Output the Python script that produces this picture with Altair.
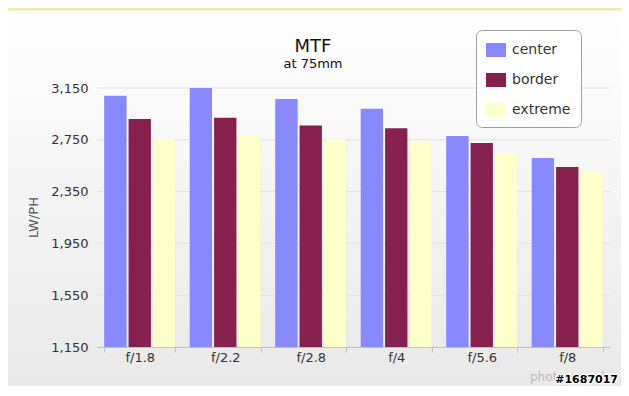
import altair as alt
import pandas as pd

apertures = ["f/1.8", "f/2.2", "f/2.8", "f/4", "f/5.6", "f/8"]
series_names = ["center", "border", "extreme"]
center = [3090, 3155, 3065, 2990, 2780, 2610]
border = [2910, 2920, 2860, 2840, 2725, 2540]
extreme = [2755, 2780, 2755, 2740, 2645, 2505]
colors = ["#8888FF", "#85204F", "#FFFFCC"]
y_ticks = [1150, 1550, 1950, 2350, 2750, 3150]

rows = []
for i, a in enumerate(apertures):
    for s, vals in zip(series_names, [center, border, extreme]):
        rows.append({"aperture": a, "series": s, "value": vals[i]})
df = pd.DataFrame(rows)
grid_df = pd.DataFrame({"value": y_ticks})

W, H = 513, 259
PL, PT, PR, PB = 89, 80, 11, 39
FONT = "DejaVu Sans"

one = pd.DataFrame({"k": [0]})

bg = alt.Chart(one).mark_rect(
    color=alt.Gradient(
        gradient="linear",
        stops=[alt.GradientStop(color="#ffffff", offset=0),
               alt.GradientStop(color="#e9e9e9", offset=1)],
        x1=0, x2=0, y1=0, y2=1,
    )
).encode(x=alt.value(-PL), x2=alt.value(W + PR), y=alt.value(-PT), y2=alt.value(H + PB))

topline = alt.Chart(one).mark_rule(color="#f2eaa0", strokeWidth=3).encode(
    x=alt.value(-PL), x2=alt.value(W + PR), y=alt.value(-PT + 1)
)

xaxis = alt.Axis(labelAngle=0, labelFont=FONT, labelFontSize=13, labelColor="#333333",
                 domainColor="#c0c0c0", tickColor="#c0c0c0", tickSize=5,
                 tickBand="extent", labelPadding=-1, grid=False, zindex=1)
yaxis = alt.Axis(values=y_ticks, format=",.0f", labelFont=FONT, labelFontSize=13,
                 labelColor="#333333", ticks=False, domain=False, labelPadding=9,
                 grid=False, zindex=1, titleFont=FONT, titleFontSize=13,
                 titleFontWeight="normal", titleColor="#555555",
                 titleX=-64, titleY=129, titleAngle=270, titleAlign="center",
                 titleBaseline="middle")
xenc = alt.X("aperture:N", sort=apertures, title=None,
             scale=alt.Scale(paddingInner=0.17, paddingOuter=0.085), axis=xaxis)
yscale = alt.Scale(domain=[1150, 3150], zero=False, nice=False)
yenc = alt.Y("value:Q", title="LW/PH", scale=yscale, axis=yaxis)
xoff = alt.XOffset("series:N", sort=series_names,
                   scale=alt.Scale(paddingInner=0.085, paddingOuter=0))

grid = alt.Chart(grid_df).mark_rule(color="#e2e2e2", strokeWidth=1).encode(
    y=yenc, x=alt.value(0), x2=alt.value(W)
)

shadow = alt.Chart(df).mark_bar(color="#000000", opacity=0.13, clip=True, xOffset=2, yOffset=1).encode(
    x=xenc, y=yenc, xOffset=xoff
)

bars = alt.Chart(df).mark_bar(clip=True).encode(
    x=xenc, y=yenc, xOffset=xoff,
    color=alt.Color("series:N", sort=series_names,
                    scale=alt.Scale(domain=series_names, range=colors),
                    legend=alt.Legend(title=None, orient="none", legendX=379, legendY=-58,
                                      fillColor="#ffffff", strokeColor="#a0a0a0", cornerRadius=6,
                                      padding=10, rowPadding=13, symbolType="M-1,-0.7H1V0.7H-1Z",
                                      symbolSize=400, symbolStrokeWidth=0, symbolOpacity=1,
                                      labelFont=FONT, labelFontSize=14, labelColor="#333333",
                                      labelOffset=6, offset=0, zindex=2)),
)

title = alt.Chart(one).mark_text(font=FONT, fontSize=18, color="#111111", baseline="alphabetic").encode(
    x=alt.value(216), y=alt.value(-36), text=alt.value("MTF"))
subtitle = alt.Chart(one).mark_text(font=FONT, fontSize=13, color="#111111", baseline="alphabetic").encode(
    x=alt.value(216), y=alt.value(-20), text=alt.value("at 75mm"))

wm1 = alt.Chart(one).mark_text(font=FONT, fontSize=12, color="#bbbbbb", baseline="alphabetic", align="left").encode(
    x=alt.value(433), y=alt.value(H + 34), text=alt.value("photozone.de"))
wm2 = alt.Chart(one).mark_text(font=FONT, fontSize=11, fontWeight="bold", color="#000000",
                               stroke="#ffffff", strokeWidth=2.5, baseline="alphabetic", align="right").encode(
    x=alt.value(W + PR - 3), y=alt.value(H + 36), text=alt.value("#1687017"))
wm3 = alt.Chart(one).mark_text(font=FONT, fontSize=11, fontWeight="bold", color="#000000",
                               baseline="alphabetic", align="right").encode(
    x=alt.value(W + PR - 3), y=alt.value(H + 36), text=alt.value("#1687017"))

chart = alt.layer(bg, topline, grid, shadow, bars, title, subtitle, wm1, wm2, wm3).properties(
    width=W, height=H,
    padding={"left": PL, "top": PT, "right": PR, "bottom": PB},
    autosize=alt.AutoSizeParams(type="none"),
    background="#ffffff",
).configure_view(stroke=None)

chart.save("out.html", embed_options={"renderer": "svg", "actions": False})
